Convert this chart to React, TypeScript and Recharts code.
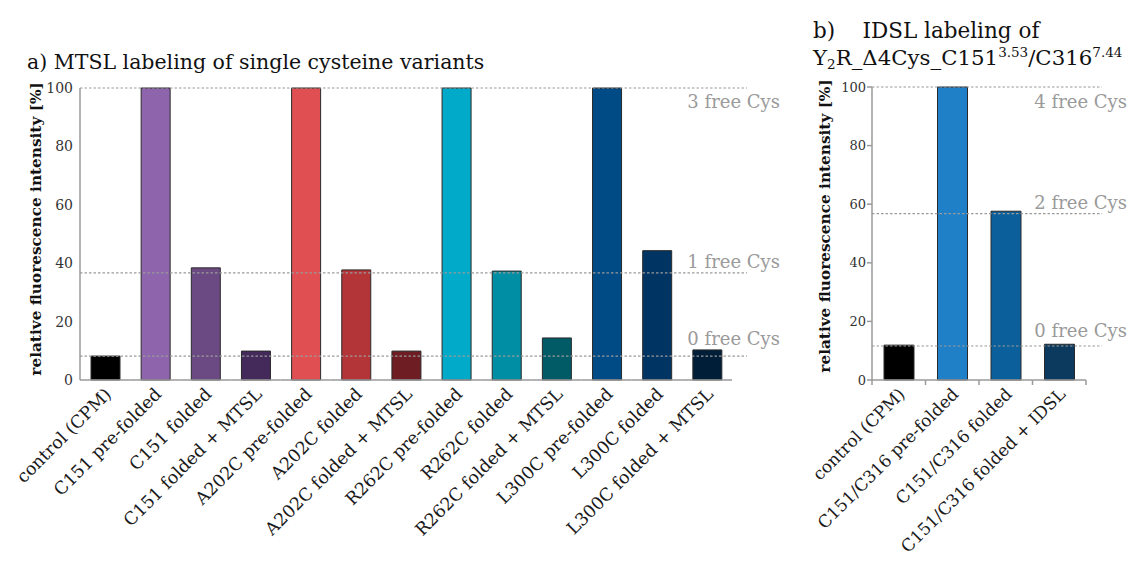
import React from 'react';
import { BarChart, Bar, XAxis, YAxis, ReferenceLine, Cell } from 'recharts';

// ---------- data ----------
const categoriesA = [
  'control (CPM)',
  'C151 pre-folded',
  'C151 folded',
  'C151 folded + MTSL',
  'A202C pre-folded',
  'A202C folded',
  'A202C folded + MTSL',
  'R262C pre-folded',
  'R262C folded',
  'R262C folded + MTSL',
  'L300C pre-folded',
  'L300C folded',
  'L300C folded + MTSL',
];
const valuesA = [8.2, 100, 38.4, 9.9, 100, 37.7, 9.9, 100, 37.3, 14.4, 100, 44.3, 10.3];
const levelsA = [100, 36.7, 8.2];
const levelLabelsA = ['3 free Cys', '1 free Cys', '0 free Cys'];

const categoriesB = [
  'control (CPM)',
  'C151/C316 pre-folded',
  'C151/C316 folded',
  'C151/C316 folded + IDSL',
];
const valuesB = [11.9, 100, 57.6, 12.2];
const levelsB = [100, 56.8, 11.6];
const levelLabelsB = ['4 free Cys', '2 free Cys', '0 free Cys'];

const yTicks = [0, 20, 40, 60, 80, 100];

// ---------- styles ----------
const colorsA = [
  '#000000',
  '#8E65AC', '#6B4A83', '#44295B',
  '#E05052', '#B43538', '#6E1D22',
  '#00AAC8', '#008EA4', '#005B67',
  '#004B86', '#003462', '#001E38',
];
const colorsB = ['#000000', '#1F80C8', '#0B5F9A', '#0B3A5E'];
const labelDyA = [20, -5, -11];
const labelDyB = [21, -5, -9];

const FONT = '"DejaVu Serif", serif';
const AXIS = '#9a9a9a';

const dataA = categoriesA.map((c, i) => ({ name: c, value: valuesA[i] }));
const dataB = categoriesB.map((c, i) => ({ name: c, value: valuesB[i] }));

function XTick(props: any) {
  const { x, y, payload, index, count, half: halfFallback, boundaryTicks, fontSize } = props;
  const half = payload && payload.offset ? payload.offset : halfFallback;
  const ax = x + 3;
  const ay = y + 11;
  return (
    <g>
      <line x1={x - half} x2={x + half} y1={y} y2={y} stroke={AXIS} strokeWidth={1.5} />
      {boundaryTicks && (
        <line x1={x - half} x2={x - half} y1={y} y2={y + 5} stroke={AXIS} strokeWidth={1.5} />
      )}
      {boundaryTicks && index === count - 1 && (
        <line x1={x + half} x2={x + half} y1={y} y2={y + 5} stroke={AXIS} strokeWidth={1.5} />
      )}
      <text
        x={ax}
        y={ay}
        dy="0.35em"
        textAnchor="end"
        transform={`rotate(-45, ${ax}, ${ay})`}
        fontFamily={FONT}
        fontSize={fontSize}
        fill="#1a1a1a"
      >
        {payload.value}
      </text>
    </g>
  );
}

function RefLabel(props: any) {
  const { viewBox, text, dy, extra } = props;
  if (!viewBox) return null;
  return (
    <text
      x={viewBox.x + viewBox.width + extra}
      y={viewBox.y + dy}
      textAnchor="end"
      fontFamily={FONT}
      fontSize={18}
      fill="#9a9a9a"
    >
      {text}
    </text>
  );
}

export default function App() {
  return (
    <div style={{ position: 'absolute', left: 0, top: 0, width: 1129, height: 562, background: '#fff', overflow: 'hidden' }}>
      {/* Chart a */}
      <div style={{ position: 'absolute', left: 0, top: 0 }}>
        <BarChart
          width={800}
          height={562}
          data={dataA}
          margin={{ top: 88, right: 53, bottom: 152, left: 40 }}
          barSize={29}
        >
          <XAxis
            dataKey="name"
            interval={0}
            height={30}
            axisLine={false}
            tickLine={false}
            tickSize={0}
            tickMargin={0}
            padding={{ left: 0, right: 15 }}
            tick={<XTick half={25.08} count={categoriesA.length} fontSize={17.5} boundaryTicks={false} />}
          />
          <YAxis
            width={40}
            domain={[0, 100]}
            ticks={yTicks}
            interval={0}
            axisLine={{ stroke: AXIS, strokeWidth: 1.5 }}
            tickLine={false}
            tickSize={4}
            tickMargin={3}
            tick={{ fontFamily: FONT, fontSize: 14, fill: '#333' }}
          />
          {levelsA.map((lv, i) => (
            <ReferenceLine
              key={i}
              y={lv}
              stroke={AXIS}
              strokeWidth={1.2}
              strokeDasharray="2.5 2"
              ifOverflow="visible"
              label={<RefLabel text={levelLabelsA[i]} dy={labelDyA[i]} extra={33} />}
            />
          ))}
          <Bar dataKey="value" isAnimationActive={false} stroke="#2a2a2a" strokeWidth={1}>
            {dataA.map((d, i) => (
              <Cell key={d.name} fill={colorsA[i]} />
            ))}
          </Bar>
        </BarChart>
      </div>

      {/* Chart b */}
      <div style={{ position: 'absolute', left: 780, top: 0 }}>
        <BarChart
          width={349}
          height={562}
          data={dataB}
          margin={{ top: 87, right: 27, bottom: 152, left: 52 }}
          barSize={30}
        >
          <XAxis
            dataKey="name"
            interval={0}
            height={30}
            axisLine={false}
            tickLine={false}
            tickSize={0}
            tickMargin={0}
            padding={{ left: 0, right: 16 }}
            tick={<XTick half={26.75} count={categoriesB.length} fontSize={17} boundaryTicks={true} />}
          />
          <YAxis
            width={40}
            domain={[0, 100]}
            ticks={yTicks}
            interval={0}
            axisLine={{ stroke: AXIS, strokeWidth: 1.5 }}
            tickLine={{ stroke: AXIS, strokeWidth: 1.5 }}
            tickSize={5}
            tickMargin={1}
            tick={{ fontFamily: FONT, fontSize: 13, fill: '#333' }}
          />
          {levelsB.map((lv, i) => (
            <ReferenceLine
              key={i}
              y={lv}
              stroke={AXIS}
              strokeWidth={1.2}
              strokeDasharray="2.5 2"
              ifOverflow="visible"
              label={<RefLabel text={levelLabelsB[i]} dy={labelDyB[i]} extra={25} />}
            />
          ))}
          <Bar dataKey="value" isAnimationActive={false} stroke="#2a2a2a" strokeWidth={1}>
            {dataB.map((d, i) => (
              <Cell key={d.name} fill={colorsB[i]} />
            ))}
          </Bar>
        </BarChart>
      </div>

      {/* Titles and axis titles */}
      <svg
        width={1129}
        height={562}
        style={{ position: 'absolute', left: 0, top: 0, pointerEvents: 'none' }}
      >
        <text x={27} y={69} fontFamily={FONT} fontSize={20.5} fill="#111">
          a) MTSL labeling of single cysteine variants
        </text>
        <text x={813} y={38} fontFamily={FONT} fontSize={21.5} fill="#111" style={{ whiteSpace: 'pre' }}>
          {'b)    IDSL labeling of'}
        </text>
        <text x={813} y={65} fontFamily={FONT} fontSize={21.3} fill="#111">
          <tspan>Y</tspan>
          <tspan fontSize={13.5} dy={4}>2</tspan>
          <tspan dy={-4}>R_Δ4Cys_C151</tspan>
          <tspan fontSize={13.5} dy={-8}>3.53</tspan>
          <tspan dy={8}>/C316</tspan>
          <tspan fontSize={13.5} dy={-8}>7.44</tspan>
        </text>
        <text
          x={36}
          y={229}
          transform="rotate(-90, 36, 229)"
          textAnchor="middle"
          dominantBaseline="central"
          fontFamily={FONT}
          fontSize={15.3}
          fontWeight="bold"
          fill="#111"
        >
          relative fluorescence intensity [%]
        </text>
        <text
          x={825}
          y={226}
          transform="rotate(-90, 825, 226)"
          textAnchor="middle"
          dominantBaseline="central"
          fontFamily={FONT}
          fontSize={15.3}
          fontWeight="bold"
          fill="#111"
        >
          relative fluorescence intensity [%]
        </text>
      </svg>
    </div>
  );
}
